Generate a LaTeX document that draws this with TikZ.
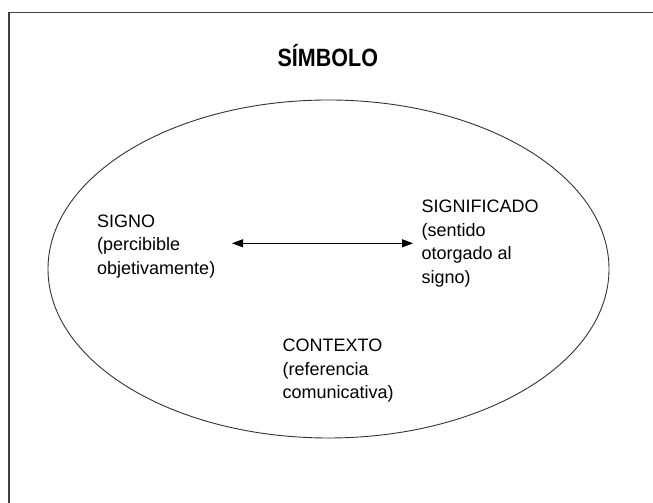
\documentclass[tikz,border=0pt]{standalone}
\usepackage{fontspec}
\setmainfont{Liberation Sans}
\newfontfamily\titlefont[FakeStretch=0.86]{Liberation Sans}
\usetikzlibrary{arrows.meta}
\tikzset{
  lbl/.style={anchor=base west, inner sep=0pt, font=\fontsize{18}{23.5}\selectfont},
  ttl/.style={anchor=base, inner sep=0pt, font=\titlefont\bfseries\fontsize{25}{30}\selectfont},
  frame/.style={draw=black!75, line width=1.1pt},
  oval/.style={draw=black!80, line width=0.9pt},
  link/.style={draw=black, line width=0.8pt, {Triangle[length=11pt,width=8pt]}-{Triangle[length=11pt,width=8pt]}}
}
\begin{document}
\begin{tikzpicture}[x=1pt,y=1pt]
\useasboundingbox (0,0) rectangle (653,503);
\fill[white] (0,0) rectangle (653,503);
% partial frame (top and left sides)
\draw[frame] (653,490.5) -- (9,490.5) -- (9,0);
% title
\node[ttl] (title) at (327.8,436.3) {SÍMBOLO};
% ellipse
\draw[oval] (328.5,234) ellipse [x radius=280.5, y radius=169];
% texts
\node[lbl] (signo) at (97,275.5) {\begin{tabular}[t]{@{}l@{}}SIGNO\\(percibible\\objetivamente)\end{tabular}};
\node[lbl] (significado) at (421.5,290) {\begin{tabular}[t]{@{}l@{}}SIGNIFICADO\\(sentido\\otorgado al\\signo)\end{tabular}};
\node[lbl] (contexto) at (282.5,151.3) {\begin{tabular}[t]{@{}l@{}}CONTEXTO\\(referencia\\comunicativa)\end{tabular}};
% arrow
\coordinate (al) at (232,259.7);
\coordinate (ar) at (413,259.7);
\draw[link] (al) -- (ar);
\end{tikzpicture}
\end{document}
